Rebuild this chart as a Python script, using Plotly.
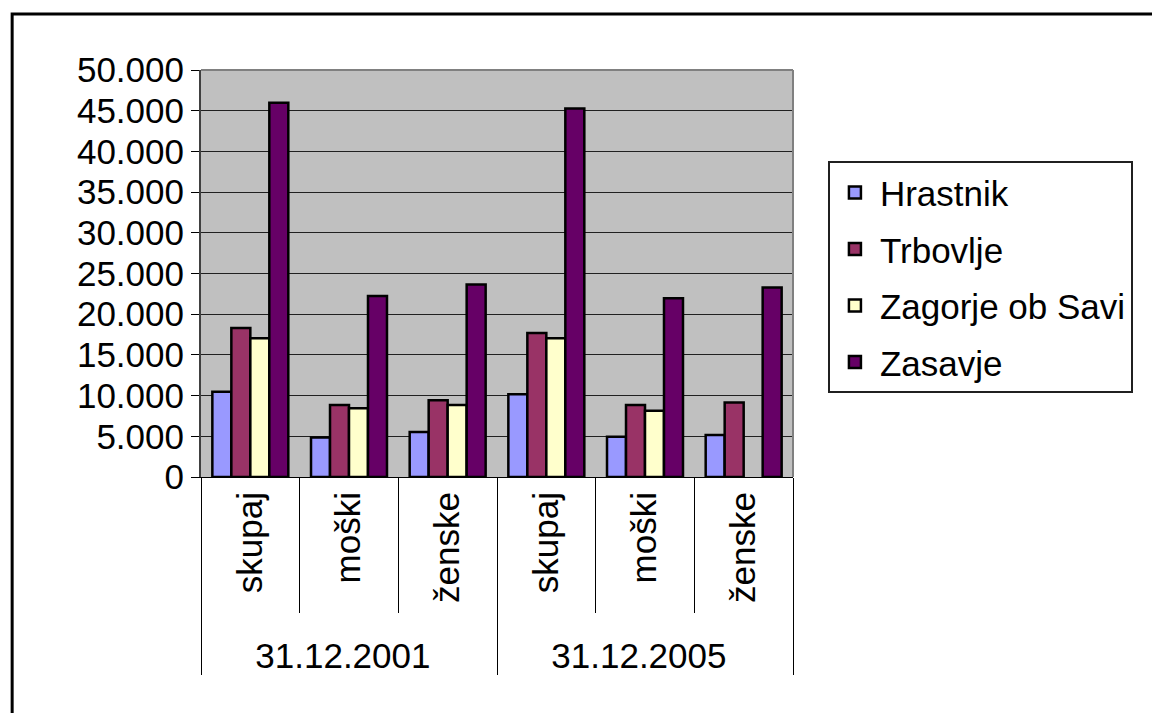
import plotly.graph_objects as go

# --- podatki (odčitani s slike) ---
datumi = ["31.12.2001", "31.12.2001", "31.12.2001",
          "31.12.2005", "31.12.2005", "31.12.2005"]
skupine = ["skupaj", "moški", "ženske", "skupaj", "moški", "ženske"]

hrastnik = [10470, 4840, 5540, 10180, 4930, 5170]
trbovlje = [18310, 8830, 9440, 17690, 8830, 9150]
zagorje = [17040, 8460, 8830, 17040, 8130, None]
zasavje = [45980, 22250, 23650, 45280, 21960, 23280]

serije = [
    ("Hrastnik", hrastnik, "#9999FF"),
    ("Trbovlje", trbovlje, "#993366"),
    ("Zagorje ob Savi", zagorje, "#FFFFCC"),
    ("Zasavje", zasavje, "#660066"),
]

pisava = "Liberation Sans, Arial, sans-serif"

fig = go.Figure()

for i, (ime, vrednosti, barva) in enumerate(serije):
    fig.add_trace(go.Bar(
        x=[datumi, skupine],
        y=vrednosti,
        name=ime,
        legendgroup=str(i),
        marker=dict(color=barva, line=dict(color="black", width=2.5)),
    ))

# okvir celotnega grafa
fig.add_shape(type="rect", xref="paper", yref="paper",
              x0=-0.319, x1=1.8, y0=-0.8, y1=1.1376,
              line=dict(color="black", width=3), layer="below")

fig.update_layout(
    width=1160, height=713,
    margin=dict(l=193, r=375, t=62, b=244),
    paper_bgcolor="white",
    plot_bgcolor="#C0C0C0",
    separators=",.",
    barmode="group",
    bargap=0.23,
    bargroupgap=0,
    font=dict(family=pisava, size=35, color="black"),
    legend=dict(
        x=1.059, y=0.776, xanchor="left", yanchor="top",
        bordercolor="#202020", borderwidth=2,
        font=dict(size=35),
        tracegroupgap=8,
        itemwidth=40,
    ),
)

fig.update_yaxes(
    range=[0, 50000], dtick=5000, tickformat=",d",
    showgrid=True, gridcolor="#202020", gridwidth=1,
    zeroline=False, automargin=False,
    showline=True, linecolor="#404040", linewidth=2,
    ticks="outside", ticklen=8, tickcolor="black",
)

fig.update_xaxes(
    type="multicategory", automargin=False,
    tickangle=-90,
    showline=True, linecolor="black", linewidth=1,
    ticks="outside", tickson="boundaries", ticklen=135, tickcolor="black",
    showdividers=True, dividercolor="black", dividerwidth=1,
)

# zgornji in desni rob risalne površine
fig.add_shape(type="line", xref="paper", yref="paper", x0=0, x1=1, y0=1, y1=1,
              line=dict(color="#808080", width=2))
fig.add_shape(type="line", xref="paper", yref="paper", x0=1, x1=1, y0=0, y1=1,
              line=dict(color="#808080", width=2))

fig.write_html("out.html")
